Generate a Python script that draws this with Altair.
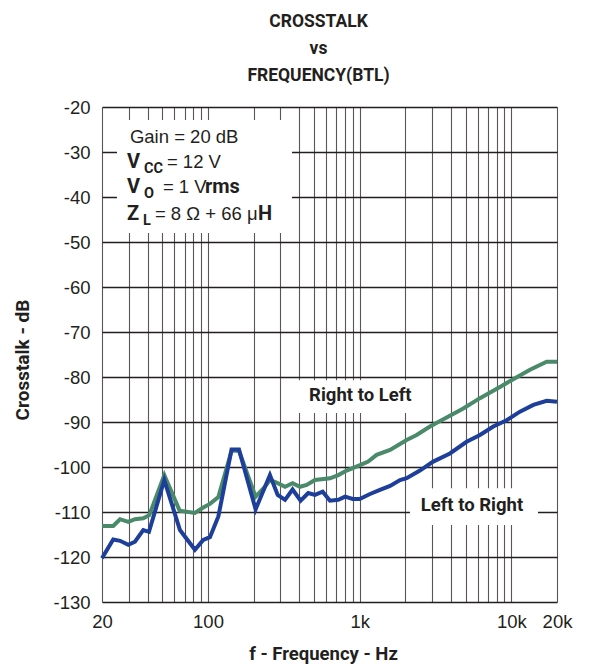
import altair as alt
import pandas as pd

# ---- data ----
rl_freq = [20, 23.7, 26.3, 29.8, 33, 37.4, 41, 51.5, 65, 82, 93, 103, 117, 143, 160,
           206, 237, 256, 288, 322, 361, 404, 447, 507, 637, 723, 820, 1005, 1138,
           1293, 1586, 2040, 2375, 2906, 3743, 4820, 6210, 8410, 10290, 13270, 17100, 20000]
rl_db = [-113.1, -113.1, -111.6, -112.2, -111.6, -111.4, -110.7, -101.8, -109.7, -110.2,
         -109.0, -108.2, -106.7, -96.4, -96.4, -106.6, -104.4, -102.9, -103.6, -104.4,
         -103.6, -104.4, -104.0, -102.9, -102.5, -101.8, -100.8, -99.6, -98.8, -97.3,
         -96.2, -94.0, -92.9, -91.0, -89.0, -87.0, -84.7, -82.2, -80.5, -78.4, -76.6, -76.6]

lr_freq = [20, 23.7, 26.3, 29.8, 33, 37.4, 40.8, 51.5, 65.3, 82, 93, 103, 117, 143, 160,
           206, 256, 288, 322, 361, 408, 458, 507, 570, 637, 723, 800, 900, 1000, 1170,
           1360, 1586, 1845, 2040, 2495, 3055, 3936, 5070, 6210, 7600, 9310, 11400,
           13960, 17100, 20000]
lr_db = [-120.3, -116.1, -116.4, -117.3, -116.6, -114.0, -114.4, -102.9, -114.0, -118.4,
         -116.2, -115.6, -111.0, -96.1, -96.1, -109.4, -101.8, -106.2, -107.3, -105.0,
         -107.5, -105.8, -106.2, -105.5, -107.5, -107.3, -106.6, -107.1, -107.1, -106.0,
         -105.1, -104.2, -102.9, -102.5, -100.8, -98.8, -97.0, -94.4, -92.9, -91.0,
         -89.6, -87.7, -86.2, -85.3, -85.5]

y_ticks = list(range(-130, -19, 10))
x_grid = ([20, 30, 40, 50, 60, 70, 80, 90] +
          [100, 200, 300, 400, 500, 600, 700, 800, 900] +
          [1000, 2000, 3000, 4000, 5000, 6000, 7000, 8000, 9000] +
          [10000, 20000])
x_labels = {20: "20", 100: "100", 1000: "1k", 10000: "10k", 20000: "20k"}

series_names = ["Right to Left", "Left to Right"]

# ---- styles ----
COND = "Roboto, Liberation Sans, sans-serif"
REG = "Liberation Sans, Arial, sans-serif"
INK = "#231f20"
GREEN = "#4a8a6a"
BLUE = "#1d3f9a"

W, H = 455, 495

df_rl = pd.DataFrame({"freq": rl_freq, "db": rl_db, "series": series_names[0]})
df_lr = pd.DataFrame({"freq": lr_freq, "db": lr_db, "series": series_names[1]})

x_scale = alt.Scale(type="log", domain=[20, 20000], nice=False)
y_scale = alt.Scale(domain=[-130, -20], nice=False, zero=False)

label_expr = " : ".join(
    [f"datum.value == {k} ? '{v}'" for k, v in x_labels.items()]) + " : ''"

x_axis = alt.Axis(values=x_grid, labelExpr=label_expr, title="f - Frequency - Hz",
                  grid=True, gridColor="#5b5557", gridWidth=1.1, ticks=False, domain=False,
                  labelFont=REG, labelFontSize=18.5, labelColor=INK, labelPadding=10,
                  labelOverlap=False, labelFlush=False,
                  titleFont=COND, titleFontSize=18.5, titleFontWeight="bold", titleColor=INK,
                  titleX=221, titleY=51, titleBaseline="middle")
y_axis = alt.Axis(values=y_ticks, labelExpr="'-' + (-datum.value)", title="Crosstalk - dB",
                  grid=True, gridColor=INK, gridWidth=1.3, ticks=False, domain=False,
                  labelFont=REG, labelFontSize=18.5, labelColor=INK, labelPadding=12,
                  titleFont=COND, titleFontSize=19, titleFontWeight="bold", titleColor=INK,
                  titleX=-80, titleY=H / 2 + 5, titleBaseline="middle", titleAlign="center")

# white backgrounds behind annotation text (data coordinates)
boxes = pd.DataFrame({
    "f1": [25.1, 380, 2146],
    "f2": [358, 2500, 14990],
    "d1": [-22.9, -80.7, -104.7],
    "d2": [-48.0, -88.0, -112.9],
})
rects = alt.Chart(boxes).mark_rect(color="white").encode(
    x=alt.X("f1:Q", scale=x_scale, axis=x_axis), x2="f2:Q",
    y=alt.Y("d1:Q", scale=y_scale, axis=y_axis), y2="d2:Q")

line_rl = alt.Chart(df_rl).mark_line(color=GREEN, strokeWidth=4).encode(
    x=alt.X("freq:Q", scale=x_scale), y=alt.Y("db:Q", scale=y_scale))
line_lr = alt.Chart(df_lr).mark_line(color=BLUE, strokeWidth=4).encode(
    x=alt.X("freq:Q", scale=x_scale), y=alt.Y("db:Q", scale=y_scale))

# series labels
lab = pd.DataFrame({"text": series_names, "freq": [1010, 5500], "db": [-84.0, -108.4]})
labels = alt.Chart(lab).mark_text(font=COND, fontSize=18.5, fontWeight="bold", color=INK,
                                  align="center", baseline="middle").encode(
    x=alt.X("freq:Q", scale=x_scale), y=alt.Y("db:Q", scale=y_scale), text="text:N")

# conditions box: (text, line baseline dB, dx, dy, style)
cond_f = 29.2
cond_pieces = [
    ("Gain = 20 dB", -27.9, 3, 0, "reg"),
    ("V", -33.6, 0, 0, "bold"),
    ("CC", -33.6, 17, 5, "sub"),
    ("= 12 V", -33.6, 40, 0, "reg"),
    ("V", -39.2, 0, 0, "bold"),
    ("O", -39.2, 17, 5, "sub"),
    ("= 1 V", -39.2, 36, 0, "reg"),
    ("rms", -39.2, 78, 0, "bold"),
    ("Z", -45.1, 0, 0, "bold"),
    ("L", -45.1, 16, 5, "sub"),
    ("= 8 \u03a9 + 66 \u03bc", -45.1, 28, 0, "reg"),
    ("H", -45.1, 131, 0, "bold"),
]
styles = {
    "reg": dict(font=REG, fontSize=18.5, fontWeight="normal"),
    "bold": dict(font=COND, fontSize=20, fontWeight="bold"),
    "sub": dict(font=COND, fontSize=14.5, fontWeight="bold"),
}
cond_layers = []
for txt, dbv, dx, dy, st in cond_pieces:
    d = pd.DataFrame({"text": [txt], "freq": [cond_f], "db": [dbv]})
    cond_layers.append(
        alt.Chart(d).mark_text(align="left", baseline="alphabetic", color=INK,
                               dx=dx, dy=dy, **styles[st]).encode(
            x=alt.X("freq:Q", scale=x_scale), y=alt.Y("db:Q", scale=y_scale),
            text="text:N"))

chart = alt.layer(rects, line_rl, line_lr, labels, *cond_layers).properties(
    width=W, height=H,
    title=alt.TitleParams(text=["CROSSTALK", "vs", "FREQUENCY(BTL)"], font=COND,
                          fontSize=17.5, fontWeight="bold", lineHeight=27, anchor="middle",
                          frame="group", dx=-11, offset=14, color=INK),
    autosize=alt.AutoSizeParams(type="none"),
    padding={"left": 94, "top": 99, "right": 28, "bottom": 66},
).configure_view(stroke=INK, strokeWidth=2.5).configure(background="white")

chart.save("out.html", embed_options={"renderer": "svg", "actions": False})
